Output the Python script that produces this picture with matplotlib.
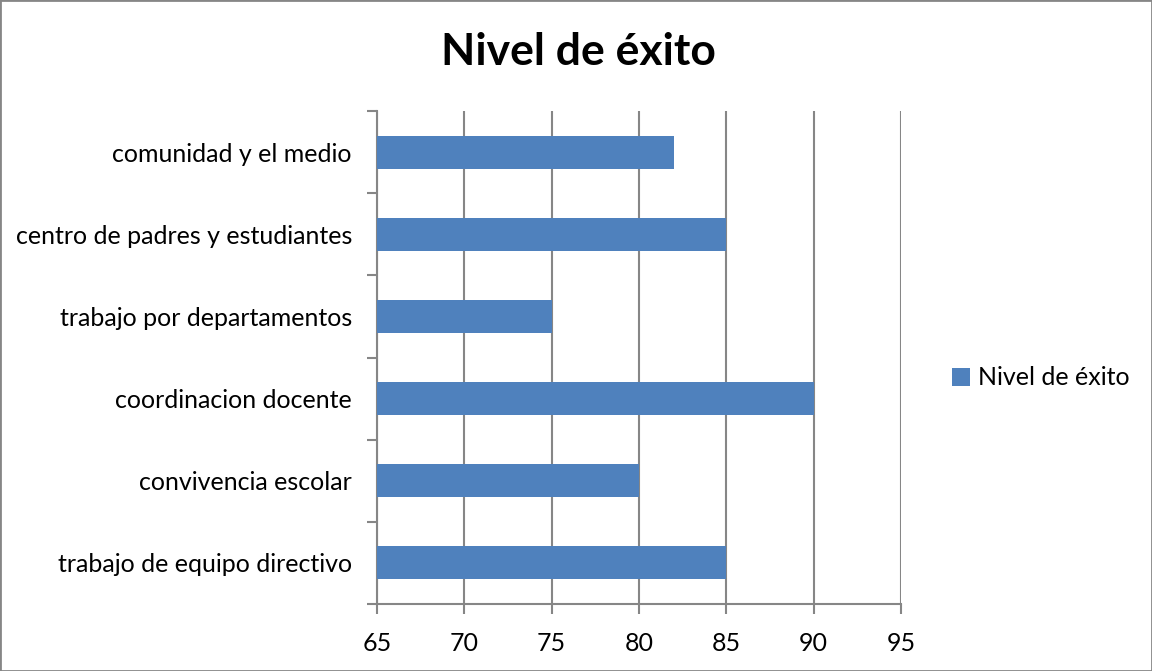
import matplotlib
matplotlib.use("Agg")
import matplotlib.pyplot as plt
from matplotlib.patches import Rectangle
import numpy as np

plt.rcParams['font.family'] = ['Lato', 'DejaVu Sans']

categories = ["trabajo de equipo directivo", "convivencia escolar", "coordinacion docente",
              "trabajo por departamentos", "centro de padres y estudiantes", "comunidad y el medio"]
values = [85, 80, 90, 75, 85, 82]
series_name = "Nivel de éxito"
xticks = [65, 70, 75, 80, 85, 90, 95]

bar_color = "#4F81BD"
axis_gray = "#868686"

fig = plt.figure(figsize=(11.52, 6.71), dpi=100)
ax = fig.add_axes([377/1152, 1-604/671, (901-377)/1152, (604-111)/671])

y = np.arange(len(categories))
ax.barh(y, [v - xticks[0] for v in values], left=xticks[0], height=0.4,
        color=bar_color, label=series_name, zorder=3)

ax.set_xlim(xticks[0], xticks[-1])
ax.set_ylim(-0.5, len(categories) - 0.5)
ax.set_xticks(xticks)
ax.set_xticklabels([str(t) for t in xticks], fontsize=18)
ax.tick_params(axis='x', direction='out', length=7, width=1.5, color=axis_gray, pad=13)

ax.set_yticks(np.arange(-0.5, len(categories), 1.0))
ax.set_yticklabels([])
ax.set_yticks(y, minor=True)
ax.set_yticklabels(categories, minor=True, fontsize=18)
ax.tick_params(axis='y', which='major', direction='out', length=7, width=1.5, color=axis_gray)
ax.tick_params(axis='y', which='minor', length=0, pad=18)

ax.grid(axis='x', color=axis_gray, linewidth=1.5, zorder=0)
ax.set_axisbelow(True)
for s in ['top', 'right']:
    ax.spines[s].set_visible(False)
for s in ['left', 'bottom']:
    ax.spines[s].set_color(axis_gray)
    ax.spines[s].set_linewidth(1.5)

fig.suptitle(series_name, x=578/1152, y=1-52/671, va='center', ha='center',
             fontsize=32, fontweight='bold')

fig.legend(loc='center left', bbox_to_anchor=(929/1152, 1-378/671), frameon=False,
           fontsize=18, handlelength=0.75, handleheight=0.75, handletextpad=0.3)

fig.patches.append(Rectangle((0, 0), 1, 1, transform=fig.transFigure, fill=False,
                             edgecolor=axis_gray, linewidth=2))

fig.savefig("out.png", dpi=100)
